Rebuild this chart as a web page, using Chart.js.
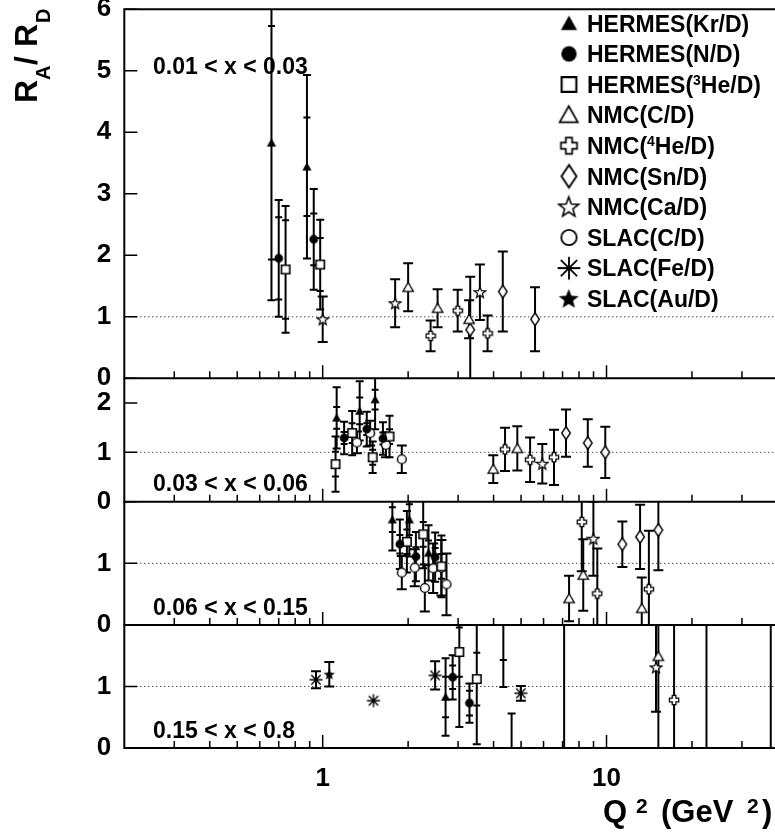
<!DOCTYPE html>
<html>
<head>
<meta charset="utf-8">
<script src="https://cdn.jsdelivr.net/npm/chart.js@4.4.1/dist/chart.umd.min.js"></script>
<style>
  html, body { margin: 0; padding: 0; background: #fff; overflow: hidden; }
  #wrap { position: relative; width: 775px; height: 837px; overflow: hidden; }
  #wrap canvas { position: absolute; left: 0; top: 0; }
</style>
</head>
<body>
<div id="wrap">
  <canvas id="p1" width="790" height="837"></canvas>
  <canvas id="p2" width="790" height="837"></canvas>
  <canvas id="p3" width="790" height="837"></canvas>
  <canvas id="p4" width="790" height="837"></canvas>
</div>
<script>
// legend order
const seriesNames = ['HERMES(Kr/D)', 'HERMES(N/D)', 'HERMES(^3He/D)', 'NMC(C/D)', 'NMC(^4He/D)',
                     'NMC(Sn/D)', 'NMC(Ca/D)', 'SLAC(C/D)', 'SLAC(Fe/D)', 'SLAC(Au/D)'];

// each point: [Q2, RA/RD, stat error, total error]
// 0.01 < x < 0.03
const b1HermesKr = [[0.66, 3.83, 1.90, 2.56], [0.88, 3.44, 0.80, 1.49]];
const b1HermesN = [[0.70, 1.95, 0.67, 0.95], [0.93, 2.26, 0.42, 0.82]];
const b1Hermes3He = [[0.74, 1.77, 0.80, 1.03], [0.98, 1.85, 0.43, 0.73]];
const b1NmcC = [[2.00, 1.48, 0, 0.39], [2.54, 1.14, 0, 0.31], [3.28, 0.96, 0, 0.31]];
const b1NmcHe4 = [[2.40, 0.69, 0, 0.25], [2.99, 1.10, 0, 0.34], [3.81, 0.73, 0, 0.29]];
const b1NmcSn = [[3.31, 0.79, 0, 0.86], [4.31, 1.41, 0, 0.65], [5.60, 0.96, 0, 0.52]];
const b1NmcCa = [[1.00, 0.96, 0, 0.37], [1.80, 1.22, 0, 0.39], [3.58, 1.40, 0, 0.45]];

// 0.03 < x < 0.06
const b2HermesKr = [[1.12, 1.70, 0.22, 0.62], [1.35, 1.84, 0.27, 0.60], [1.53, 2.07, 0.20, 0.60]];
const b2HermesN = [[1.19, 1.29, 0.12, 0.33], [1.43, 1.47, 0.12, 0.35], [1.63, 1.28, 0.12, 0.33]];
const b2Hermes3He = [[1.11, 0.76, 0.25, 0.56], [1.27, 1.39, 0.20, 0.45], [1.50, 0.90, 0.15, 0.32], [1.72, 1.32, 0.15, 0.42]];
const b2NmcC = [[3.99, 0.66, 0, 0.28], [4.85, 1.08, 0, 0.45]];
const b2NmcHe4 = [[4.39, 1.06, 0, 0.44], [5.38, 0.85, 0, 0.45], [6.53, 0.90, 0, 0.56]];
const b2NmcSn = [[7.20, 1.39, 0, 0.48], [8.59, 1.19, 0, 0.48], [9.90, 1.00, 0, 0.52]];
const b2NmcCa = [[5.94, 0.77, 0, 0.40]];
const b2SlacC = [[1.32, 1.20, 0, 0.22], [1.47, 1.39, 0, 0.25], [1.67, 1.15, 0, 0.25], [1.90, 0.86, 0, 0.28]];

// 0.06 < x < 0.15
const b3HermesKr = [[1.76, 1.71, 0.20, 0.50], [2.02, 1.71, 0.25, 0.60], [2.36, 1.17, 0.20, 0.45]];
const b3HermesN = [[1.87, 1.31, 0.15, 0.40], [2.13, 1.11, 0.15, 0.40], [2.49, 1.10, 0.15, 0.40]];
const b3Hermes3He = [[1.98, 1.35, 0.20, 0.50], [2.26, 1.47, 0.20, 0.55], [2.62, 0.95, 0.20, 0.50]];
const b3NmcC = [[7.38, 0.43, 0, 0.37], [8.28, 0.81, 0, 0.58], [13.31, 0.27, 0, 0.50]];
const b3NmcHe4 = [[8.18, 1.67, 0, 0.80], [9.28, 0.51, 0, 0.73], [14.1, 0.58, 0, 0.95]];
const b3NmcSn = [[11.37, 1.31, 0, 0.37], [13.13, 1.43, 0, 0.52], [15.23, 1.54, 0, 0.65]];
const b3NmcCa = [[8.99, 1.40, 0, 0.60]];
const b3SlacC = [[1.90, 0.85, 0, 0.27], [2.11, 0.93, 0, 0.30], [2.29, 0.60, 0, 0.38],
                 [2.45, 0.92, 0, 0.40], [2.62, 0.93, 0, 0.45], [2.73, 0.66, 0, 0.50]];

// 0.15 < x < 0.8
const b4HermesKr = [[2.71, 0.83, 0.33, 0.63], [4.33, 2.40, 0.97, 1.41]];
const b4HermesN = [[2.87, 1.15, 0.19, 0.36], [3.29, 0.73, 0.20, 0.32], [4.63, -0.50, 0, 1.06]];
const b4Hermes3He = [[3.03, 1.56, 0.40, 1.22], [3.49, 1.12, 0.43, 1.06]];
const b4NmcC = [[15.23, 1.49, 0, 2.0]];
const b4NmcHe4 = [[17.3, 0.78, 0, 2.0]];
const b4NmcSn = [[7.09, 3.0, 0, 4.0], [22.5, 3.0, 0, 4.0], [37.9, 3.0, 0, 4.0]];
const b4NmcCa = [[14.94, 1.31, 0, 0.72]];
const b4SlacFe = [[0.947, 1.11, 0, 0.14], [1.51, 0.77, 0, 0], [2.49, 1.18, 0, 0.23], [4.99, 0.89, 0, 0.12]];
const b4SlacAu = [[1.055, 1.20, 0, 0.20]];

const bins = [
  [b1HermesKr, b1HermesN, b1Hermes3He, b1NmcC, b1NmcHe4, b1NmcSn, b1NmcCa, [], [], []],
  [b2HermesKr, b2HermesN, b2Hermes3He, b2NmcC, b2NmcHe4, b2NmcSn, b2NmcCa, b2SlacC, [], []],
  [b3HermesKr, b3HermesN, b3Hermes3He, b3NmcC, b3NmcHe4, b3NmcSn, b3NmcCa, b3SlacC, [], []],
  [b4HermesKr, b4HermesN, b4Hermes3He, b4NmcC, b4NmcHe4, b4NmcSn, b4NmcCa, [], b4SlacFe, b4SlacAu]
];

const binLabels = ['0.01 < x < 0.03', '0.03 < x < 0.06', '0.06 < x < 0.15', '0.15 < x < 0.8'];
const yMax = [6, 2.5, 2, 2];
const yTicks = [[0, 1, 2, 3, 4, 5, 6], [0, 1, 2], [0, 1], [0, 1]];
const xTicks = [1, 10];
const xMinorTicks = [0.3, 0.4, 0.5, 0.6, 0.7, 0.8, 0.9, 2, 3, 4, 5, 6, 7, 8, 9, 20, 30];
const refQ2 = [0.2, 40];
const refR = [1, 1];

// panel frame geometry in page pixels
const panelTop = [9.3, 378.3, 501.7, 625];
const panelBottom = [378.3, 501.7, 625, 748];
const FONT = '"Liberation Sans", Arial, Helvetica, sans-serif';

Chart.defaults.font.family = FONT;
Chart.defaults.color = '#000';

// marker shapes, drawn in a unit box, scaled by s
function mk(w, h, s, draw) {
  const c = document.createElement('canvas');
  c.width = Math.round(w * s); c.height = Math.round(h * s);
  const g = c.getContext('2d');
  g.scale(s, s);
  g.strokeStyle = '#000'; g.fillStyle = '#000';
  draw(g, w / 2, h / 2);
  return c;
}
function starPath(g, cx, cy, ro, ri) {
  g.beginPath();
  for (let i = 0; i < 10; i++) {
    const r = i % 2 ? ri : ro;
    const a = -Math.PI / 2 + i * Math.PI / 5;
    g.lineTo(cx + r * Math.cos(a), cy + r * Math.sin(a));
  }
  g.closePath();
}
function openFill(g, lw) {
  g.fillStyle = '#fff'; g.fill();
  g.lineWidth = lw; g.stroke();
}
function buildMarkers(s, lwk) {
  return [
    mk(12, 12, s, (g) => { g.beginPath(); g.moveTo(6, 1.6); g.lineTo(10.6, 9.8); g.lineTo(1.4, 9.8); g.closePath(); g.fill(); }),
    mk(12, 12, s, (g, cx, cy) => { g.beginPath(); g.arc(cx, cy, 4.4, 0, 2 * Math.PI); g.fill(); }),
    mk(12, 12, s, (g) => { g.beginPath(); g.rect(1.8, 1.8, 8.4, 8.4); openFill(g, 1.6 * lwk); }),
    mk(14, 14, s, (g) => { g.beginPath(); g.moveTo(7, 2); g.lineTo(12.2, 11.2); g.lineTo(1.8, 11.2); g.closePath(); openFill(g, 1.3 * lwk); }),
    mk(12, 12, s, (g, cx, cy) => {
      const a = 1.8, b = 4.6;
      g.beginPath();
      [[-a, -b], [a, -b], [a, -a], [b, -a], [b, a], [a, a], [a, b], [-a, b], [-a, a], [-b, a], [-b, -a], [-a, -a]]
        .forEach(p => g.lineTo(cx + p[0], cy + p[1]));
      g.closePath(); openFill(g, 1.3 * lwk);
    }),
    mk(12, 16, s, (g) => { g.beginPath(); g.moveTo(6, 1.5); g.lineTo(10.3, 8); g.lineTo(6, 14.5); g.lineTo(1.7, 8); g.closePath(); openFill(g, 1.4 * lwk); }),
    mk(14, 14, s, (g, cx, cy) => { starPath(g, cx, cy + 0.5, 6, 2.5); openFill(g, 1.2 * lwk); }),
    mk(12, 12, s, (g, cx, cy) => { g.beginPath(); g.arc(cx, cy, 4.4, 0, 2 * Math.PI); openFill(g, 1.4 * lwk); }),
    mk(16, 16, s, (g, cx, cy) => {
      g.lineWidth = 1.4 * lwk; g.beginPath();
      const r = 6.5, d = r * 0.72;
      g.moveTo(cx - r, cy); g.lineTo(cx + r, cy);
      g.moveTo(cx, cy - r); g.lineTo(cx, cy + r);
      g.moveTo(cx - d, cy - d); g.lineTo(cx + d, cy + d);
      g.moveTo(cx - d, cy + d); g.lineTo(cx + d, cy - d);
      g.stroke();
    }),
    mk(14, 14, s, (g, cx, cy) => { starPath(g, cx, cy + 0.5, 6, 2.6); g.fill(); })
  ];
}
const markers = buildMarkers(1, 1);
const legendMarkers = buildMarkers(1.75, 0.75);

// text with ^N superscripts
function richText(ctx, str, x, y, size, supSize, supRise) {
  const parts = str.split(/\^(\d)/);
  parts.forEach((p, i) => {
    if (!p) return;
    if (i % 2) {
      ctx.font = 'bold ' + supSize + 'px ' + FONT;
      ctx.fillText(p, x, y - supRise);
    } else {
      ctx.font = 'bold ' + size + 'px ' + FONT;
      ctx.fillText(p, x, y);
    }
    x += ctx.measureText(p).width;
  });
}

function drawErrors(chart) {
  const { ctx, chartArea: a, scales: { x, y } } = chart;
  ctx.save();
  ctx.beginPath();
  ctx.rect(a.left, a.top, a.right - a.left, a.bottom - a.top);
  ctx.clip();
  ctx.strokeStyle = '#000';
  ctx.lineWidth = 2;
  chart.data.datasets.forEach(ds => {
    if (!ds.tot) return;
    ds.data.forEach((p, i) => {
      const px = x.getPixelForValue(p.x);
      const tot = ds.tot[i], st = ds.stat[i];
      if (tot <= 0) return;
      const hi = y.getPixelForValue(p.y + tot), lo = y.getPixelForValue(p.y - tot);
      const cw = ds.capW;
      ctx.beginPath();
      ctx.moveTo(px, hi); ctx.lineTo(px, lo);
      ctx.moveTo(px - cw, hi); ctx.lineTo(px + cw, hi);
      ctx.moveTo(px - cw, lo); ctx.lineTo(px + cw, lo);
      if (st > 0) {
        const sh = y.getPixelForValue(p.y + st), sl = y.getPixelForValue(p.y - st);
        ctx.moveTo(px - 3.5, sh); ctx.lineTo(px + 3.5, sh);
        ctx.moveTo(px - 3.5, sl); ctx.lineTo(px + 3.5, sl);
      }
      ctx.stroke();
    });
  });
  ctx.restore();
}

function drawFrame(chart, k) {
  const { ctx, chartArea: a, scales: { x, y } } = chart;
  ctx.save();
  ctx.strokeStyle = '#000';
  ctx.lineWidth = 2;
  ctx.beginPath();
  if (k === 0) { ctx.moveTo(a.right + 5, a.top); ctx.lineTo(a.left, a.top); }
  else ctx.moveTo(a.left, a.top);
  ctx.lineTo(a.left, a.bottom);
  ctx.lineTo(a.right + 5, a.bottom);
  ctx.stroke();
  ctx.lineWidth = 1.5;
  ctx.beginPath();
  xMinorTicks.forEach(v => { const px = x.getPixelForValue(v); ctx.moveTo(px, a.bottom); ctx.lineTo(px, a.bottom - 7); });
  xTicks.forEach(v => { const px = x.getPixelForValue(v); ctx.moveTo(px, a.bottom); ctx.lineTo(px, a.bottom - 13); });
  yTicks[k].forEach(v => { const py = y.getPixelForValue(v); ctx.moveTo(a.left, py); ctx.lineTo(a.left + 13, py); });
  ctx.stroke();

  ctx.fillStyle = '#000';
  ctx.textBaseline = 'alphabetic';
  ctx.textAlign = 'left';
  ctx.font = 'bold 23px ' + FONT;
  const labelBase = [74, 491, 615, 738];
  ctx.fillText(binLabels[k], 153, labelBase[k]);

  if (k === 0) {
    // legend
    seriesNames.forEach((name, i) => {
      const cy = 23.3 + i * 30.6;
      const m = legendMarkers[i];
      ctx.drawImage(m, 569 - m.width / 2, cy - m.height / 2);
      richText(ctx, name, 587, cy + 8.2, 23, 14, 8);
    });
    // y title
    ctx.save();
    ctx.translate(37, 103);
    ctx.rotate(-Math.PI / 2);
    ctx.font = 'bold 32px ' + FONT;
    ctx.fillText('R', 0, 0);
    ctx.fillText('/', 38, 0);
    ctx.fillText('R', 56, 0);
    ctx.font = 'bold 20px ' + FONT;
    ctx.fillText('A', 23, 13);
    ctx.fillText('D', 80, 13);
    ctx.restore();
  }
  if (k === 3) {
    ctx.font = 'bold 31px ' + FONT;
    ctx.fillText('Q', 603, 822);
    ctx.fillText('(GeV', 661, 822);
    ctx.fillText(')', 762, 822);
    ctx.font = 'bold 21px ' + FONT;
    ctx.fillText('2', 636, 813);
    ctx.fillText('2', 747, 813);
  }
  ctx.restore();
}

function makePanel(k) {
  const last = k === 3;
  const xH = last ? 60 : 0;
  const datasets = [];
  bins[k].forEach((pts, s) => {
    if (!pts.length) return;
    datasets.push({
      label: seriesNames[s],
      data: pts.map(p => ({ x: p[0], y: p[1] })),
      stat: pts.map(p => p[2]),
      tot: pts.map(p => p[3]),
      capW: s < 3 ? 4 : 5,
      pointStyle: markers[s],
      pointRadius: 5,
      showLine: false,
      clip: 0
    });
  });
  datasets.push({
    data: refQ2.map((q, i) => ({ x: q, y: refR[i] })),
    showLine: true,
    borderColor: '#000',
    borderWidth: 1,
    borderDash: [1, 3],
    pointRadius: 0,
    clip: 0
  });

  return new Chart(document.getElementById('p' + (k + 1)), {
    type: 'scatter',
    data: { datasets },
    options: {
      responsive: false,
      animation: false,
      devicePixelRatio: 1,
      events: [],
      layout: { padding: { left: 64.3, right: 12.6, top: panelTop[k], bottom: 837 - panelBottom[k] - xH } },
      plugins: { legend: { display: false }, tooltip: { enabled: false } },
      scales: {
        x: {
          type: 'logarithmic',
          min: 0.2,
          max: 40,
          grid: { display: false, drawTicks: false },
          border: { display: false },
          ticks: {
            display: last,
            autoSkip: false,
            maxRotation: 0,
            padding: 15,
            font: { size: 26, weight: 'bold' },
            color: '#000',
            callback: v => String(v)
          },
          afterBuildTicks: s => { s.ticks = xTicks.map(v => ({ value: v })); },
          afterFit: s => { s.height = xH; s.paddingLeft = 0; s.paddingRight = 0; }
        },
        y: {
          min: 0,
          max: yMax[k],
          grid: { display: false, drawTicks: false },
          border: { display: false },
          ticks: {
            padding: 13,
            font: { size: 26, weight: 'bold' },
            color: '#000',
            callback: v => String(v)
          },
          afterBuildTicks: s => { s.ticks = yTicks[k].map(v => ({ value: v })); },
          afterFit: s => { s.width = 60; s.paddingTop = 0; s.paddingBottom = 0; }
        }
      }
    },
    plugins: [{
      id: 'rootStyle',
      beforeDatasetsDraw: chart => drawErrors(chart),
      afterDatasetsDraw: chart => drawFrame(chart, k)
    }]
  });
}

[0, 1, 2, 3].forEach(makePanel);
</script>
</body>
</html>
